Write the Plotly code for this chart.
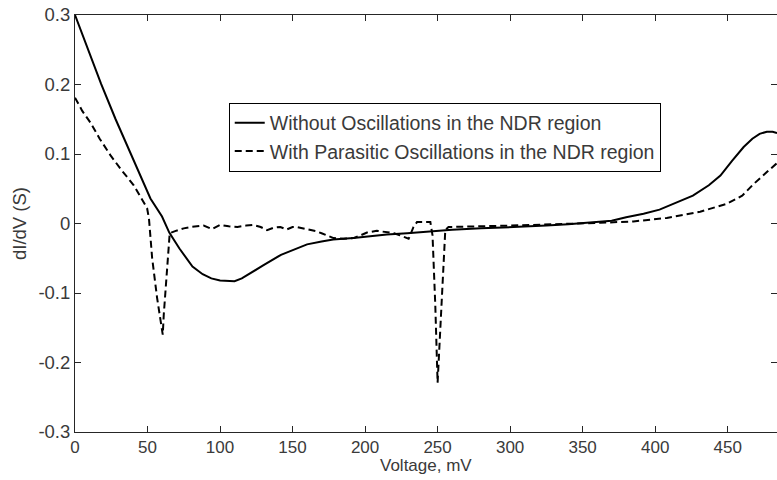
import plotly.graph_objects as go

# Solid curve: without oscillations
v_solid = [0, 8, 18, 28, 40, 52, 60, 65, 72, 81, 88, 94, 100, 105, 110, 115, 121, 130, 142, 152,
           160, 170, 178, 192, 205, 215, 229, 240, 247, 260, 280, 307, 325, 340, 357, 370, 380, 392,
           403, 415, 426, 437, 445, 453, 461, 467, 472, 477, 481, 484]
g_solid = [0.300, 0.256, 0.201, 0.150, 0.094, 0.036, 0.010, -0.013, -0.036, -0.062, -0.073, -0.079,
           -0.082, -0.083, -0.083, -0.079, -0.071, -0.060, -0.045, -0.037, -0.030, -0.026, -0.023,
           -0.021, -0.018, -0.016, -0.014, -0.012, -0.011, -0.009, -0.007, -0.005, -0.003, -0.001,
           0.002, 0.004, 0.009, 0.014, 0.020, 0.030, 0.040, 0.055, 0.069, 0.090, 0.110, 0.122,
           0.129, 0.132, 0.132, 0.130]

# Dashed curve: with parasitic oscillations
v_dash = [0, 5, 10.7, 17, 24.5, 32, 40.5, 46, 49.7, 51, 53.2, 56.6, 59, 60.5, 61.2, 63.5, 65.3, 69,
          75, 80, 88.7, 94.5, 100, 106, 112, 118, 123, 128, 132.4, 137, 141.6, 146, 150, 153, 158,
          162, 166, 170, 174, 178.3, 185, 192, 197, 201.3, 208, 215, 220, 224, 230, 233.4, 235.8,
          240, 245, 246.5, 248.4, 250, 251.8, 254, 255.3, 257.5, 265, 280, 300, 320, 340, 362, 385,
          408, 431, 449, 460, 468, 477, 484]
g_dash = [0.181, 0.162, 0.145, 0.122, 0.098, 0.077, 0.055, 0.036, 0.022, 0.007, -0.050, -0.107,
          -0.140, -0.160, -0.131, -0.060, -0.014, -0.011, -0.007, -0.005, -0.003, -0.008, -0.002,
          -0.004, -0.005, -0.003, -0.002, -0.005, -0.0095, -0.006, -0.005, -0.0086, -0.005, -0.005,
          -0.007, -0.0095, -0.011, -0.014, -0.017, -0.021, -0.022, -0.021, -0.017, -0.013, -0.0105,
          -0.012, -0.014, -0.017, -0.022, -0.005, 0.002, 0.002, 0.002, -0.017, -0.117, -0.229,
          -0.155, -0.060, -0.0095, -0.005, -0.005, -0.004, -0.003, -0.002, -0.001, 0.001, 0.003,
          0.008, 0.017, 0.028, 0.040, 0.057, 0.074, 0.087]

x_ticks = [0, 50, 100, 150, 200, 250, 300, 350, 400, 450]
y_ticks = [-0.3, -0.2, -0.1, 0, 0.1, 0.2, 0.3]
y_tick_text = ["-0.3", "-0.2", "-0.1", "0", "0.1", "0.2", "0.3"]

names = ["Without Oscillations in the NDR region", "With Parasitic Oscillations in the NDR region"]
x_title = "Voltage, mV"
y_title = "dI/dV (S)"

FONT = "Liberation Sans, Arial, sans-serif"
TXT = "#3a3a3a"
AX = "#262626"
FS = 19.5
TFS = 18.5
XFS = 17

fig = go.Figure()
fig.add_trace(go.Scatter(x=v_solid, y=g_solid, mode="lines", name=names[0],
                         line=dict(color="black", width=2)))
fig.add_trace(go.Scatter(x=v_dash, y=g_dash, mode="lines", name=names[1],
                         line=dict(color="black", width=2, dash="7px,4px")))

fig.add_annotation(text=x_title, x=0.5, y=0, xref="paper", yref="paper",
                   xanchor="center", yanchor="top", yshift=-23, showarrow=False, borderpad=0,
                   font=dict(family=FONT, size=XFS, color=TXT))

fig.update_layout(
    width=777, height=480,
    margin=dict(l=75, r=0, t=15, b=48),
    paper_bgcolor="white", plot_bgcolor="white",
    font=dict(family=FONT, size=FS, color=TXT),
    showlegend=True,
    legend=dict(x=0.219, y=0.79, xanchor="left", yanchor="top",
                bgcolor="white", bordercolor="black", borderwidth=1,
                font=dict(family=FONT, size=FS, color=TXT),
                itemwidth=30, tracegroupgap=0),
    xaxis=dict(range=[0, 484], tickvals=x_ticks, ticks="inside", ticklen=6, tickcolor=AX,
               showline=True, linecolor=AX, linewidth=1, mirror="ticks", showgrid=False,
               zeroline=False, tickfont=dict(size=XFS, color=TXT)),
    yaxis=dict(range=[-0.3, 0.3], tickvals=y_ticks, ticktext=y_tick_text, ticks="inside", ticklen=6,
               tickcolor=AX, showline=True, linecolor=AX, linewidth=1, mirror="ticks", showgrid=False,
               zeroline=False, title=dict(text=y_title, font=dict(size=TFS, color=TXT), standoff=6),
               tickfont=dict(size=TFS, color=TXT)),
)

fig.write_html("out.html")
